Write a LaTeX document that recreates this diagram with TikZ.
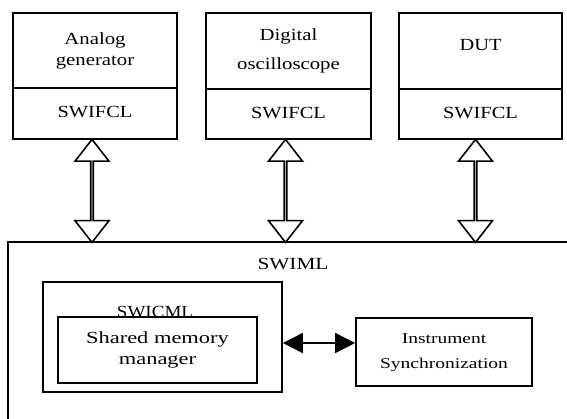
\documentclass[tikz,border=0pt]{standalone}
\usepackage{fontspec}
\setmainfont{Liberation Serif}
\usetikzlibrary{arrows.meta,shapes.arrows,calc}
\newcommand{\wtxt}[2][1.3]{\scalebox{#1}[1]{\begin{tabular}{@{}c@{}}#2\end{tabular}}}
\begin{document}
\begin{tikzpicture}[x=1pt,y=-1pt,
  every node/.style={font=\fontsize{17}{21}\selectfont},
  box/.style={draw,line width=1.7pt,inner sep=0pt,fill=white},
  hollowarrow/.style={draw,line width=1.6pt,double arrow,rotate=90,
    minimum width=34pt,double arrow head extend=10pt,inner sep=0pt,
    double arrow tip angle=76},
  link/.style={line width=1.8pt,{Triangle[length=20pt,width=20pt]}-{Triangle[length=20pt,width=20pt]}}]
\useasboundingbox (0,0) rectangle (567,419);

% instrument boxes, each with its SWIFCL layer
\node[box,minimum width=164pt,minimum height=75pt] (ag) at (95,50.5) {\raisebox{4pt}{\wtxt[1.22]{Analog\\generator}}};
\node[box,minimum width=164pt,minimum height=51pt] (agif) at (95,113.5) {\wtxt[1.2]{SWIFCL}};
\node[box,minimum width=165pt,minimum height=76pt] (osc) at (288.5,51) {\raisebox{4pt}{\wtxt[1.22]{Digital\\[8pt]oscilloscope}}};
\node[box,minimum width=165pt,minimum height=50pt] (oscif) at (288.5,114) {\wtxt[1.2]{SWIFCL}};
\node[box,minimum width=163pt,minimum height=76pt] (dut) at (480.5,51) {\raisebox{16pt}{\wtxt[1.2]{DUT}}};
\node[box,minimum width=163pt,minimum height=50pt] (dutif) at (480.5,114) {\wtxt[1.2]{SWIFCL}};

% SWIML frame, open to the right and bottom
\coordinate (busL) at (8,242);
\coordinate (busR) at (567,242);
\coordinate (busB) at (8,419);
\draw[line width=1.7pt] (busR) -- (busL) -- (busB);
\node (swiml) at (293,265) {\wtxt[1.25]{SWIML}};

% two-way links between each instrument and SWIML
\path ([xshift=-3pt]agif.south) -- ([xshift=-3pt]agif.south |- busL)
  node[midway,hollowarrow,minimum height=103pt] (a1) {};
\path ([xshift=-3pt]oscif.south) -- ([xshift=-3pt]oscif.south |- busL)
  node[midway,hollowarrow,minimum height=103pt] (a2) {};
\path ([xshift=-5pt]dutif.south) -- ([xshift=-5pt]dutif.south |- busL)
  node[midway,hollowarrow,minimum height=103pt] (a3) {};

% SWICML with the shared memory manager inside
\node[box,minimum width=239pt,minimum height=110pt] (swicml) at (162.5,337) {};
\node[anchor=base] (swicmllbl) at (155,317.5) {\wtxt[1.12]{SWICML}};
\node[box,minimum width=199pt,minimum height=66pt] (smm) at (157.5,350) {\wtxt[1.32]{Shared memory\\manager}};
\node[box,minimum width=176pt,minimum height=68pt,font=\fontsize{15}{20}\selectfont] (sync) at (444,352) {\wtxt[1.3]{Instrument\\[5pt]Synchronization}};

\draw[link] (swicml.east |- 0,343) -- (sync.west |- 0,343);
\end{tikzpicture}
\end{document}
